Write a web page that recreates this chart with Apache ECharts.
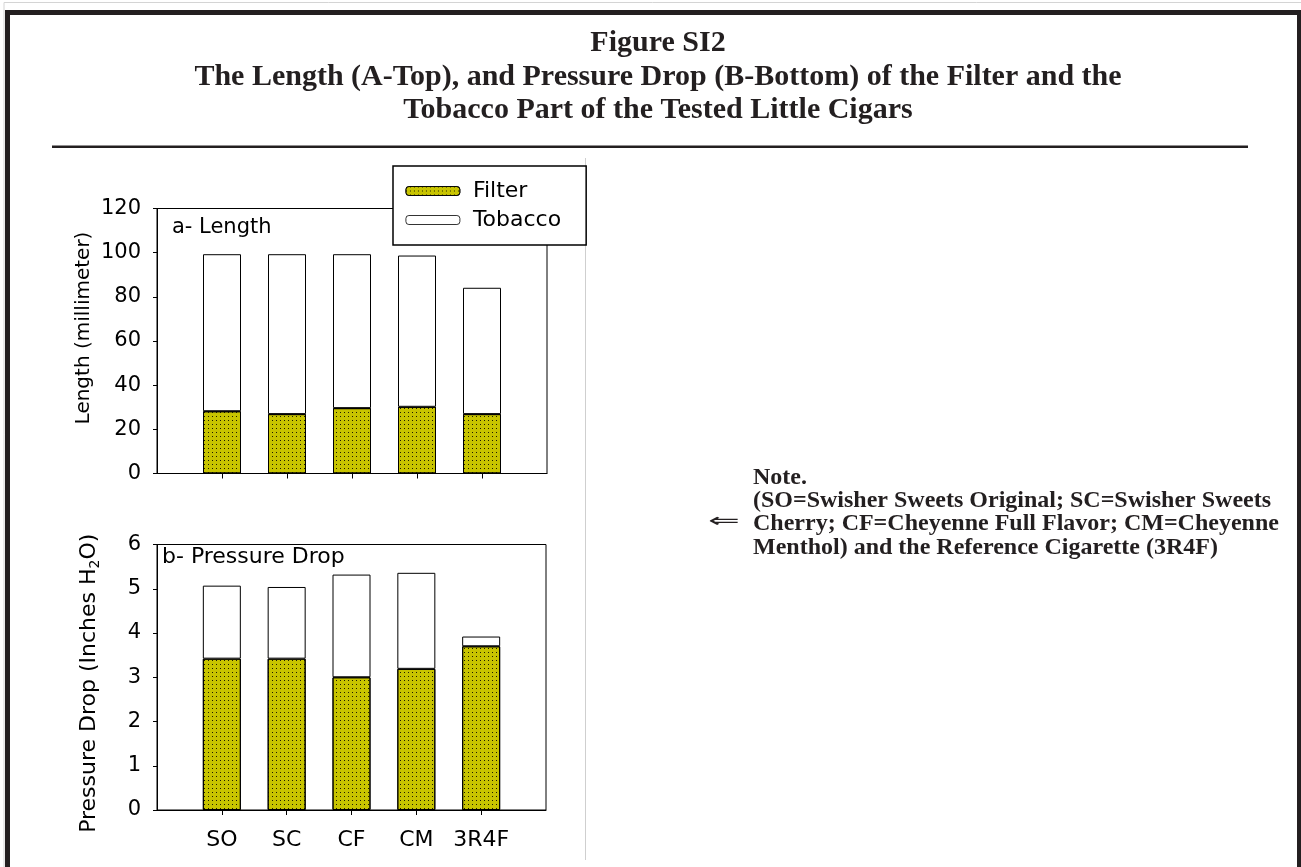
<!DOCTYPE html>
<html>
<head>
<meta charset="utf-8">
<script src="https://cdn.jsdelivr.net/npm/echarts@6/dist/echarts.min.js"></script>
<style>
html,body{margin:0;padding:0;background:#fff;}
#chart{width:1301px;height:867px;}
</style>
</head>
<body>
<div id="chart"></div>
<script>
// ---- data ----
const categories = ['SO', 'SC', 'CF', 'CM', '3R4F'];
const filterLength = [28.2, 26.9, 29.6, 30.2, 26.9];
const tobaccoLength = [71.1, 72.4, 69.7, 68.5, 57.2];
const filterPressure = [3.42, 3.42, 3.00, 3.19, 3.70];
const tobaccoPressure = [1.65, 1.62, 2.32, 2.17, 0.22];
const lengthTicks = [0, 20, 40, 60, 80, 100, 120];
const pressureTicks = [0, 1, 2, 3, 4, 5, 6];
const seriesNames = ['Filter', 'Tobacco'];
const titleLines = [
  'Figure SI2',
  'The Length (A-Top), and Pressure Drop (B-Bottom) of the Filter and the',
  'Tobacco Part of the Tested Little Cigars'
];
const noteLines = [
  'Note.',
  '(SO=Swisher Sweets Original; SC=Swisher Sweets',
  'Cherry; CF=Cheyenne Full Flavor; CM=Cheyenne',
  'Menthol) and the Reference Cigarette (3R4F)'
];
const panelLabels = ['a- Length', 'b- Pressure Drop'];

// padded category list so bars sit at 1..5 on a 0..6 axis
const axisCats = [''].concat(categories, ['']);
const pad = arr => [null].concat(arr, [null]);

const SANS = 'DejaVu Sans';
const SERIF = 'Liberation Serif';
const INK = '#231f20';
const OLIVE = '#c8c400';

const dots = {
  symbol: 'rect', symbolSize: 1,
  dashArrayX: [1, 3], dashArrayY: [1, 3],
  color: 'rgba(0,0,0,0.85)', rotation: 0
};
const filterStyle = { color: OLIVE, borderColor: '#000', borderWidth: 1, decal: dots };
const tobaccoStyle = { color: '#fff', borderColor: '#000', borderWidth: 1 };

function xAxisCfg(gridIndex, showLabels) {
  return {
    type: 'category', gridIndex: gridIndex, data: axisCats, boundaryGap: false,
    axisLine: { show: true, lineStyle: { color: '#000', width: 1 } },
    axisTick: { show: true, inside: false, length: 5, lineStyle: { color: '#000' },
      interval: (i) => i >= 1 && i <= categories.length },
    axisLabel: { show: showLabels, interval: 0, margin: 19, fontSize: 22, fontFamily: SANS, color: '#000' },
    splitLine: { show: false }
  };
}
function yAxisCfg(gridIndex, ticks, name, nameCfg) {
  return Object.assign({
    type: 'value', gridIndex: gridIndex, min: ticks[0], max: ticks[ticks.length - 1],
    interval: ticks[1] - ticks[0],
    axisLine: { show: true, lineStyle: { color: '#000', width: 1 } },
    axisTick: { show: true, inside: false, length: 4, lineStyle: { color: '#000' } },
    axisLabel: { margin: 16, fontSize: 21, fontFamily: SANS, color: '#000' },
    splitLine: { show: false },
    name: name, nameLocation: 'middle'
  }, nameCfg);
}

const graphic = [
  // page frame
  { type: 'line', shape: { x1: 4, y1: 2.5, x2: 1301, y2: 2.5 }, style: { stroke: '#d4d4d4', lineWidth: 1 } },
  { type: 'line', shape: { x1: 4, y1: 2.5, x2: 4, y2: 867 }, style: { stroke: '#d4d4d4', lineWidth: 1 } },
  { type: 'rect', shape: { x: 5, y: 10, width: 1296, height: 5 }, style: { fill: INK } },
  { type: 'rect', shape: { x: 5, y: 10, width: 5, height: 857 }, style: { fill: INK } },
  { type: 'rect', shape: { x: 1297, y: 10, width: 5, height: 857 }, style: { fill: INK } },
  // rule under title
  { type: 'rect', shape: { x: 52, y: 145.5, width: 1196, height: 2.5 }, style: { fill: INK } },
  // separator of chart picture
  { type: 'line', shape: { x1: 585.5, y1: 158, x2: 585.5, y2: 860 }, style: { stroke: '#cfcfcf', lineWidth: 1 } },
  // panel labels
  { type: 'text', x: 172, y: 228, style: { text: panelLabels[0], fontSize: 21, fontFamily: SANS, fill: '#000', verticalAlign: 'middle' } },
  { type: 'text', x: 162, y: 557.5, style: { text: panelLabels[1], fontSize: 22, fontFamily: SANS, fill: '#000', verticalAlign: 'middle' } },
  // note arrow
  { type: 'text', x: 708, y: 522, scaleX: 1.9, style: { text: '\u21D0', fontSize: 20, fontFamily: 'DejaVu Sans', fill: INK, verticalAlign: 'middle' } }
];
const titleY = [43, 77, 110];
titleLines.forEach((t, i) => graphic.push({
  type: 'text', x: 658, y: titleY[i],
  style: { text: t, fontSize: 30, fontWeight: 'bold', fontFamily: SERIF, fill: INK, align: 'center', verticalAlign: 'middle' }
}));
const noteY = [477.5, 500.5, 524, 547.5];
noteLines.forEach((t, i) => graphic.push({
  type: 'text', x: 753, y: noteY[i],
  style: { text: t, fontSize: 24, fontWeight: 'bold', fontFamily: SERIF, fill: INK, align: 'left', verticalAlign: 'middle' }
}));

const option = {
  backgroundColor: '#fff',
  animation: false,
  grid: [
    { left: 157, top: 208.5, width: 390, height: 265, show: true, borderColor: '#000', borderWidth: 1, backgroundColor: 'transparent', containLabel: false },
    { left: 157, top: 544.5, width: 389, height: 265.5, show: true, borderColor: '#000', borderWidth: 1, backgroundColor: 'transparent', containLabel: false }
  ],
  xAxis: [xAxisCfg(0, false), xAxisCfg(1, true)],
  yAxis: [
    yAxisCfg(0, lengthTicks, 'Length (millimeter)', {
      nameGap: 63,
      nameTextStyle: { fontSize: 20, fontFamily: SANS, color: '#000', padding: [0, 0, 0, 26] }
    }),
    yAxisCfg(1, pressureTicks, '{a|Pressure Drop (Inches H}{s|2}{a|O)}', {
      nameGap: 55,
      nameTextStyle: {
        fontSize: 22, fontFamily: SANS, color: '#000', padding: [0, 12, 0, 0],
        rich: {
          a: { fontSize: 22, fontFamily: SANS, color: '#000', lineHeight: 26 },
          s: { fontSize: 14, fontFamily: SANS, color: '#000', lineHeight: 14, verticalAlign: 'bottom' }
        }
      }
    })
  ],
  legend: {
    data: seriesNames,
    orient: 'vertical',
    left: 393, top: 166,
    padding: [13, 25, 13, 12.5],
    itemGap: 5,
    itemWidth: 54, itemHeight: 9,
    icon: 'path://M3,0H51A3,3,0,0,1,54,3V6A3,3,0,0,1,51,9H3A3,3,0,0,1,0,6V3A3,3,0,0,1,3,0Z',
    itemStyle: { borderWidth: 0.8, borderColor: '#000' },
    borderColor: '#000', borderWidth: 1.5, backgroundColor: '#fff',
    selectedMode: false,
    textStyle: { fontSize: 22, fontFamily: SANS, color: '#000', lineHeight: 24, padding: [0, 0, 0, 8] }
  },
  series: [
    { name: seriesNames[0], type: 'bar', stack: 'len', xAxisIndex: 0, yAxisIndex: 0, barWidth: 38, data: pad(filterLength), itemStyle: filterStyle },
    { name: seriesNames[1], type: 'bar', stack: 'len', xAxisIndex: 0, yAxisIndex: 0, barWidth: 38, data: pad(tobaccoLength), itemStyle: tobaccoStyle },
    { name: seriesNames[0], type: 'bar', stack: 'pd', xAxisIndex: 1, yAxisIndex: 1, barWidth: 38, data: pad(filterPressure), itemStyle: filterStyle },
    { name: seriesNames[1], type: 'bar', stack: 'pd', xAxisIndex: 1, yAxisIndex: 1, barWidth: 38, data: pad(tobaccoPressure), itemStyle: tobaccoStyle }
  ],
  graphic: graphic
};

const chart = echarts.init(document.getElementById('chart'), null, { renderer: 'canvas', width: 1301, height: 867 });
chart.setOption(option);
</script>
</body>
</html>
